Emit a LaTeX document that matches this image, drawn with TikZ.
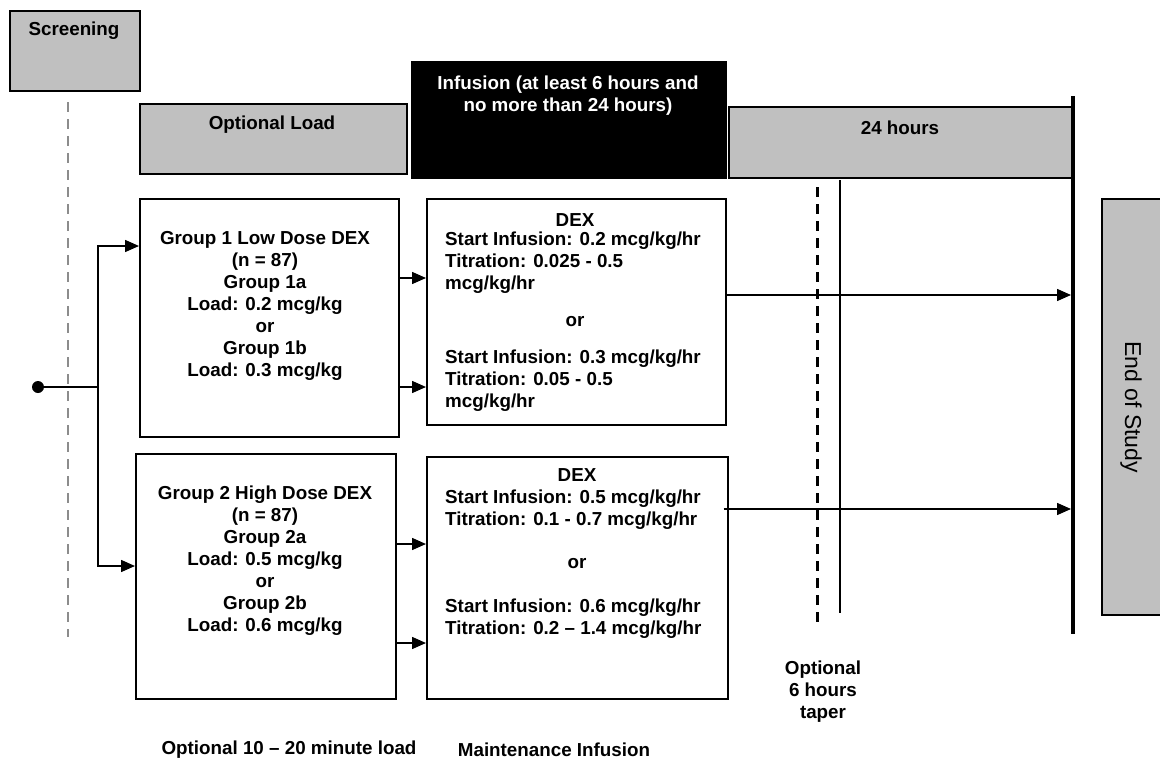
\documentclass[tikz,border=0pt]{standalone}
\usepackage{fontspec}
\setmainfont{Liberation Sans}
\usetikzlibrary{arrows.meta,calc}
\definecolor{boxgray}{HTML}{C0C0C0}
\definecolor{dashgray}{HTML}{8C8C8C}
\begin{document}
\begin{tikzpicture}[x=1pt,y=-1pt,
  box/.style={draw, line width=1.6pt, inner sep=0pt, anchor=north west},
  graybox/.style={box, fill=boxgray},
  txt/.style={font=\fontsize{18.8}{22}\selectfont\bfseries, align=center, inner sep=0pt},
  ltxt/.style={txt, align=left, anchor=west},
  arr/.style={line width=1.5pt, -{Triangle[length=14pt,width=12pt]}},
]
\useasboundingbox (0,0) rectangle (1160,763);

% header boxes
\node[graybox, minimum width=130pt, minimum height=80pt] (scr) at (9,10) {};
\node[txt] (scrt) at (74,31) {Screening};
\node[graybox, minimum width=267pt, minimum height=70pt] (ol) at (139,103) {};
\node[txt] (olt) at (272,125) {Optional Load};
\node[box, fill=black, minimum width=314pt, minimum height=116pt] (inf) at (411,61) {};
\node[txt, text=white] (inft) at (568,96) {Infusion (at least 6 hours and\\no more than 24 hours)};
\node[graybox, minimum width=344pt, minimum height=71pt] (h24) at (728,106) {};
\node[txt] (h24t) at (900,128) {24 hours};
\node[graybox, minimum width=70pt, minimum height=416pt] (eos) at (1101,198) {};
\node[font=\fontsize{23}{26}\selectfont, inner sep=0pt, rotate=-90] (eost) at (1131,407) {End of Study};

% vertical lines
\coordinate (scrtop) at (68,102);
\coordinate (scrbot) at (68,637);
\draw[dashgray, line width=1.6pt, dash pattern=on 10pt off 7pt] (scrtop) -- (scrbot);
\coordinate (endtop) at (1073,96);
\coordinate (endbot) at (1073,634);
\draw[line width=4.5pt] (endtop) -- (endbot);
\coordinate (tapertop) at (840,180);
\coordinate (taperbot) at (840,613);
\draw[line width=1.8pt] (tapertop) -- (taperbot);
\coordinate (optop) at (817,187);
\coordinate (opbot) at (817,628);
\draw[line width=3pt, dash pattern=on 10pt off 7pt] (optop) -- (opbot);

% group boxes
\node[box, minimum width=259pt, minimum height=238pt] (g1) at (139,198) {};
\node[txt] (g1t) at (265,306) {Group 1 Low Dose DEX\\(n = 87)\\Group 1a\\Load: 0.2 mcg/kg\\or\\Group 1b\\Load: 0.3 mcg/kg};
\node[box, minimum width=260pt, minimum height=245pt] (g2) at (135,453) {};
\node[txt] (g2t) at (265,561) {Group 2 High Dose DEX\\(n = 87)\\Group 2a\\Load: 0.5 mcg/kg\\or\\Group 2b\\Load: 0.6 mcg/kg};

% DEX boxes
\node[box, minimum width=299pt, minimum height=226pt] (d1) at (426,198) {};
\node[txt] (d1h) at (575,220) {DEX};
\node[ltxt] (d1a) at (445,262.5) {Start Infusion: 0.2 mcg/kg/hr\\Titration: 0.025 - 0.5\\mcg/kg/hr};
\node[txt] (d1o) at (575,322) {or};
\node[ltxt] (d1b) at (445,380.5) {Start Infusion: 0.3 mcg/kg/hr\\Titration: 0.05 - 0.5\\mcg/kg/hr};

\node[box, minimum width=301pt, minimum height=242pt] (d2) at (426,456) {};
\node[txt] (d2h) at (577,475) {DEX};
\node[ltxt] (d2a) at (445,509.5) {Start Infusion: 0.5 mcg/kg/hr\\Titration: 0.1 - 0.7 mcg/kg/hr};
\node[txt] (d2o) at (577,564) {or};
\node[ltxt] (d2b) at (445,619) {Start Infusion: 0.6 mcg/kg/hr\\Titration: 0.2 -- 1.4 mcg/kg/hr};

% bottom labels
\node[txt] (lb1) at (289,750) {Optional 10 -- 20 minute load};
\node[txt] (lb2) at (554,750) {Maintenance Infusion};
\node[txt] (lb3) at (823,692) {Optional\\6 hours\\taper};

% connectors
\node[circle, fill=black, inner sep=0pt, minimum size=12pt] (start) at (38,387) {};
\coordinate (split) at (98,387);
\coordinate (r1) at (0,246);
\coordinate (r2) at (0,566);
\draw[line width=1.5pt] (start) -- (split);
\draw[arr] (split) -- (split |- r1) -- (g1.west |- r1);
\draw[arr] (split) -- (split |- r2) -- (g2.west |- r2);

\coordinate (a1) at (0,278);
\coordinate (a2) at (0,387);
\coordinate (a3) at (0,544);
\coordinate (a4) at (0,643);
\draw[arr] (g1.east |- a1) -- (d1.west |- a1);
\draw[arr] (g1.east |- a2) -- (d1.west |- a2);
\draw[arr] (g2.east |- a3) -- (d2.west |- a3);
\draw[arr] (g2.east |- a4) -- (d2.west |- a4);

\coordinate (o1) at (0,295);
\coordinate (o2) at (0,509);
\draw[arr, shorten >=2pt] (d1.east |- o1) -- (endtop |- o1);
\draw[arr, shorten >=2pt] ([xshift=-5pt]d2.east |- o2) -- (endtop |- o2);
\end{tikzpicture}
\end{document}
